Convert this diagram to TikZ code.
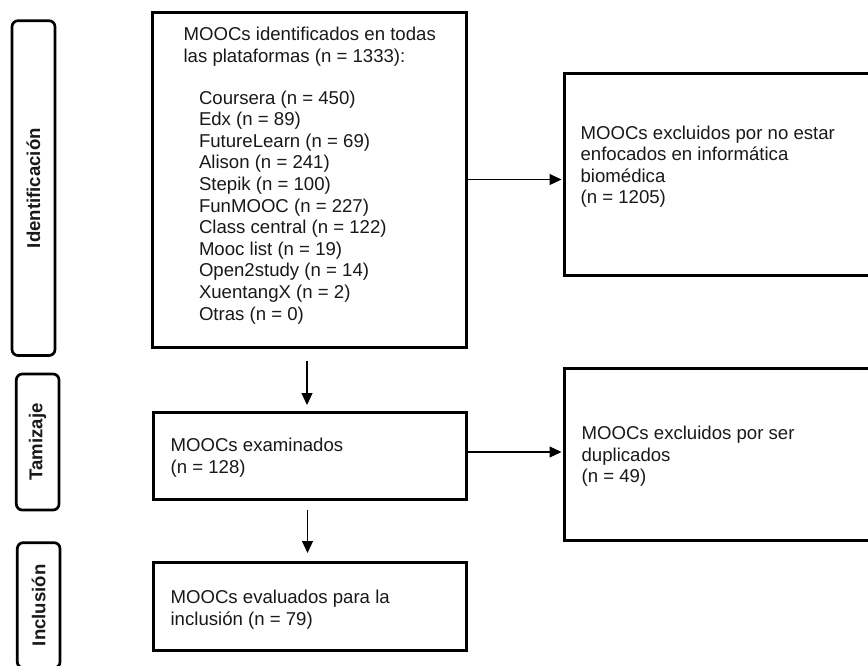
\documentclass[tikz,border=0pt]{standalone}
\usepackage{fontspec}
\setmainfont{Liberation Sans}
\usetikzlibrary{arrows.meta}
\definecolor{ink}{gray}{0.1}
\begin{document}
\begin{tikzpicture}[x=1pt,y=-1pt,
  box/.style={draw=black, line width=3pt, rectangle, inner sep=0pt, outer sep=0pt, anchor=north west},
  lab/.style={draw=black, line width=2.7pt, rounded corners=6pt, inner sep=0pt, outer sep=0pt, rotate=90,
    font=\fontsize{18.6}{21.6}\selectfont\bfseries, text=ink},
  txt/.style={inner sep=0pt, outer sep=0pt, anchor=north west, align=left,
    font=\fontsize{18.6}{21.6}\selectfont, text=ink},
  arr/.style={draw=black, line width=1.1pt, -{Triangle[length=12pt,width=11pt]}}
]
\useasboundingbox (0,0) rectangle (868,665);
\clip (0,0) rectangle (868,665);
\fill[white] (0,0) rectangle (868,665);

% phase labels
\node[lab, minimum width=334.8pt, minimum height=43pt] (lid) at (33.5,188.1) {Identificación};
\node[lab, minimum width=136pt, minimum height=42.7pt] (ltam) at (37.65,442) {Tamizaje};
\node[lab, minimum width=125.3pt, minimum height=42.7pt] (linc) at (38.65,605.3) {Inclusión};

% main boxes
\node[box, minimum width=314pt, minimum height=335pt] (b1) at (152,12) {};
\node[box, minimum width=313pt, minimum height=87pt] (b2) at (153,412) {};
\node[box, minimum width=313pt, minimum height=88pt] (b3) at (153,562) {};
\node[box, minimum width=320pt, minimum height=202.5pt] (e1) at (564.5,73) {};
\node[box, minimum width=320pt, minimum height=171.5pt] (e2) at (564.5,368.5) {};

% texts
\node[txt] (t1) at (183.6,27.1) {MOOCs identificados en todas\\las plataformas (n = 1333):};
\node[txt] (t1list) at (199,90.7) {Coursera (n = 450)\\Edx (n = 89)\\FutureLearn (n = 69)\\Alison (n = 241)\\Stepik (n = 100)\\FunMOOC (n = 227)\\Class central (n = 122)\\Mooc list (n = 19)\\Open2study (n = 14)\\XuentangX (n = 2)\\Otras (n = 0)};
\node[txt] (t2) at (170.6,438) {MOOCs examinados\\(n = 128)};
\node[txt] (t3) at (170.6,590) {MOOCs evaluados para la\\inclusión (n = 79)};
\node[txt] (te1) at (580.6,125.7) {MOOCs excluidos por no estar\\enfocados en informática\\biomédica\\(n = 1205)};
\node[txt] (te2) at (581.6,426) {MOOCs excluidos por ser\\duplicados\\(n = 49)};

% arrows
\draw[arr, shorten <=2pt, shorten >=3pt] (b1.east) -- (b1.east -| e1.west);
\draw[arr, shorten <=2pt, shorten >=3pt] ([yshift=3.5pt]b2.east) -- ([yshift=3.5pt]b2.east -| e2.west);
\draw[arr, shorten <=14pt, shorten >=7pt] ([xshift=-2pt]b1.south) -- ([xshift=-2pt]b1.south |- b2.north);
\draw[arr, shorten <=11pt, shorten >=9pt] ([xshift=-2pt]b2.south) -- ([xshift=-2pt]b2.south |- b3.north);
\end{tikzpicture}
\end{document}
